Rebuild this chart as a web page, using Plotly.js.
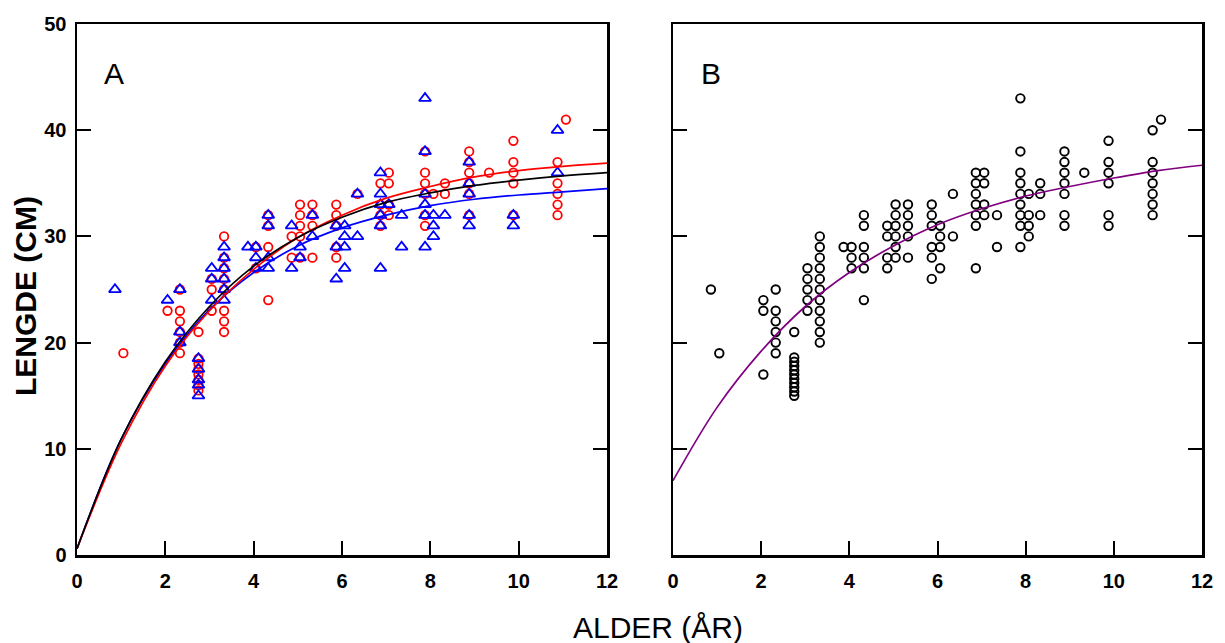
<!DOCTYPE html>
<html>
<head>
<meta charset="utf-8">
<script src="https://cdn.plot.ly/plotly-3.0.1.min.js"></script>
<style>html,body{margin:0;padding:0;background:#fff;}#chart{width:1225px;height:643px;}</style>
</head>
<body>
<div id="chart"></div>
<script>
// Age groups (years) shared by both panels
const ages = [0.86, 1.05, 2.05, 2.33, 2.75, 3.05, 3.33, 3.87, 4.05, 4.33, 4.86, 5.05, 5.33, 5.87, 6.06, 6.35, 6.87, 7.06, 7.35, 7.88, 8.07, 8.33, 8.88, 9.33, 9.88, 10.88, 11.07];

// Panel A: red circles (lengths per age group)
const redLengths = [
  [], [19], [23], [25,23,22,21,20,19], [21,18.5,18,17.5,17,16.5,16,15.5],
  [26,25,23], [30,28,27,26,25,23,22,21], [], [29,27], [32,31,29,24],
  [30,28], [33,32,31,30,28], [33,32,31,28], [33,32,31,29,28], [],
  [34], [35,33,32,31], [36,35,33,32], [], [38,36,35,34,32,31],
  [34], [35,34], [38,37,36,35,34,32], [36], [39,37,36,35,32],
  [37,35,34,33,32], [41]
];

// Panel A: blue triangles
const blueLengths = [
  [25], [], [24], [25,21,20], [18.5,17.5,16.5,16,15],
  [27,26,24], [29,28,27,26,25,24], [29], [29,28,27], [32,31,28,27],
  [31,27], [29,28], [32,30], [31,29,26], [31,30,29,27],
  [34,30], [36,34,33,32,31,27], [33], [32,29], [43,38,34,33,32,29],
  [32,31,30], [32], [37,35,34,32,31], [], [32,31],
  [40,36], []
];

// Panel B: all fish (black circles)
const allLengths = [
  [25], [19], [24,23,17], [25,23,22,21,20,19], [21,18.6,18.2,17.8,17.4,17,16.6,16.2,15.8,15.4,15],
  [27,26,25,24,23], [30,29,28,27,26,25,24,23,22,21,20], [29], [29,28,27], [32,31,29,28,27,24],
  [31,30,28,27], [33,32,31,30,29,28], [33,32,31,30,28], [33,32,31,29,28,26], [31,30,29,27],
  [34,30], [36,35,34,33,32,31,27], [36,35,33,32], [32,29], [43,38,36,35,34,33,32,31,29],
  [34,32,31,30], [35,34,32], [38,37,36,35,34,32,31], [36], [39,37,36,35,32,31],
  [40,37,36,35,34,33,32], [41]
];

// Growth curves at whole years
const curveAges  = [0, 1, 2, 3, 4, 5, 6, 7, 8, 9, 10, 11, 12];
const redCurve   = [0.6, 10.5, 17.8, 23.0, 26.9, 29.9, 32.0, 33.6, 34.7, 35.6, 36.2, 36.6, 36.9];
const blackCurve = [0.6, 10.9, 18.2, 23.4, 27.2, 29.9, 31.8, 33.2, 34.1, 34.8, 35.3, 35.7, 36.0];
const blueCurve  = [0.6, 10.9, 18.0, 23.1, 26.6, 29.1, 30.8, 32.0, 32.9, 33.5, 33.9, 34.2, 34.5];
const purpleCurve= [7.0, 13.9, 19.2, 23.4, 26.6, 29.1, 31.1, 32.6, 33.8, 34.7, 35.5, 36.2, 36.7];

function flat(groups) {
  const x = [], y = [];
  groups.forEach((list, i) => list.forEach(v => { x.push(ages[i]); y.push(v); }));
  return {x, y};
}

const R = flat(redLengths), B = flat(blueLengths), K = flat(allLengths);
const FONT = 'Liberation Sans, Arial, Helvetica, sans-serif';

const traces = [
  {x: R.x, y: R.y, xaxis: 'x', yaxis: 'y', type: 'scatter', mode: 'markers',
   marker: {symbol: 'circle-open', size: 8.5, color: '#ff0000', line: {width: 1.8, color: '#ff0000'}}},
  {x: B.x, y: B.y, xaxis: 'x', yaxis: 'y', type: 'scatter', mode: 'markers',
   marker: {symbol: 'triangle-up-open', size: 10.5, color: '#0000ff', line: {width: 1.8, color: '#0000ff'}}},
  {x: curveAges, y: blueCurve, xaxis: 'x', yaxis: 'y', type: 'scatter', mode: 'lines',
   line: {color: '#0000ff', width: 1.7, shape: 'spline', smoothing: 1}},
  {x: curveAges, y: redCurve, xaxis: 'x', yaxis: 'y', type: 'scatter', mode: 'lines',
   line: {color: '#ff0000', width: 1.7, shape: 'spline', smoothing: 1}},
  {x: curveAges, y: blackCurve, xaxis: 'x', yaxis: 'y', type: 'scatter', mode: 'lines',
   line: {color: '#000000', width: 1.7, shape: 'spline', smoothing: 1}},
  {x: K.x, y: K.y, xaxis: 'x2', yaxis: 'y2', type: 'scatter', mode: 'markers',
   marker: {symbol: 'circle-open', size: 8.5, color: '#000000', line: {width: 1.9, color: '#000000'}}},
  {x: curveAges, y: purpleCurve, xaxis: 'x2', yaxis: 'y2', type: 'scatter', mode: 'lines',
   line: {color: '#800080', width: 1.7, shape: 'spline', smoothing: 1}}
];

const W = 1225, H = 643;
const yDom = [1 - 555 / H, 1 - 24 / H];
const tickFont = {family: FONT, size: 20, color: '#000', weight: 'bold'};
const axBase = {showgrid: false, zeroline: false, showline: true, linecolor: '#000', linewidth: 2.5,
  ticks: 'inside', ticklen: 14, tickwidth: 2, tickcolor: '#000', tickfont: tickFont, fixedrange: true};

const layout = {
  width: W, height: H,
  margin: {l: 0, r: 0, t: 0, b: 0},
  paper_bgcolor: '#fff', plot_bgcolor: '#fff',
  showlegend: false,
  font: {family: FONT, color: '#000'},
  xaxis: Object.assign({}, axBase, {domain: [77 / W, 607 / W], range: [0, 12], dtick: 2, tick0: 0, anchor: 'y', mirror: true, ticklabelstandoff: 6}),
  yaxis: Object.assign({}, axBase, {domain: yDom, range: [0, 50], dtick: 10, tick0: 0, anchor: 'x', mirror: 'ticks', ticklabelstandoff: 4}),
  xaxis2: Object.assign({}, axBase, {domain: [673 / W, 1202 / W], range: [0, 12], dtick: 2, tick0: 0, anchor: 'y2', mirror: true, ticklabelstandoff: 6}),
  yaxis2: Object.assign({}, axBase, {domain: yDom, range: [0, 50], dtick: 10, tick0: 0, anchor: 'x2', mirror: 'ticks', showticklabels: false}),
  annotations: [
    {text: 'A', xref: 'paper', yref: 'paper', x: 114 / W, y: 1 - 73 / H, xanchor: 'center', yanchor: 'middle',
     showarrow: false, font: {family: FONT, size: 30, color: '#000'}},
    {text: 'B', xref: 'paper', yref: 'paper', x: 711 / W, y: 1 - 73 / H, xanchor: 'center', yanchor: 'middle',
     showarrow: false, font: {family: FONT, size: 30, color: '#000'}},
    {text: 'ALDER (ÅR)', xref: 'paper', yref: 'paper', x: 658 / W, y: 1 - 627 / H, xanchor: 'center', yanchor: 'middle',
     showarrow: false, font: {family: FONT, size: 30, color: '#000'}},
    {text: 'LENGDE (CM)', xref: 'paper', yref: 'paper', x: 25 / W, y: 1 - 296 / H, xanchor: 'center', yanchor: 'middle',
     textangle: -90, showarrow: false, font: {family: FONT, size: 30, color: '#000', weight: 'bold'}}
  ]
};

Plotly.newPlot('chart', traces, layout, {staticPlot: true, displayModeBar: false});
</script>
</body>
</html>
